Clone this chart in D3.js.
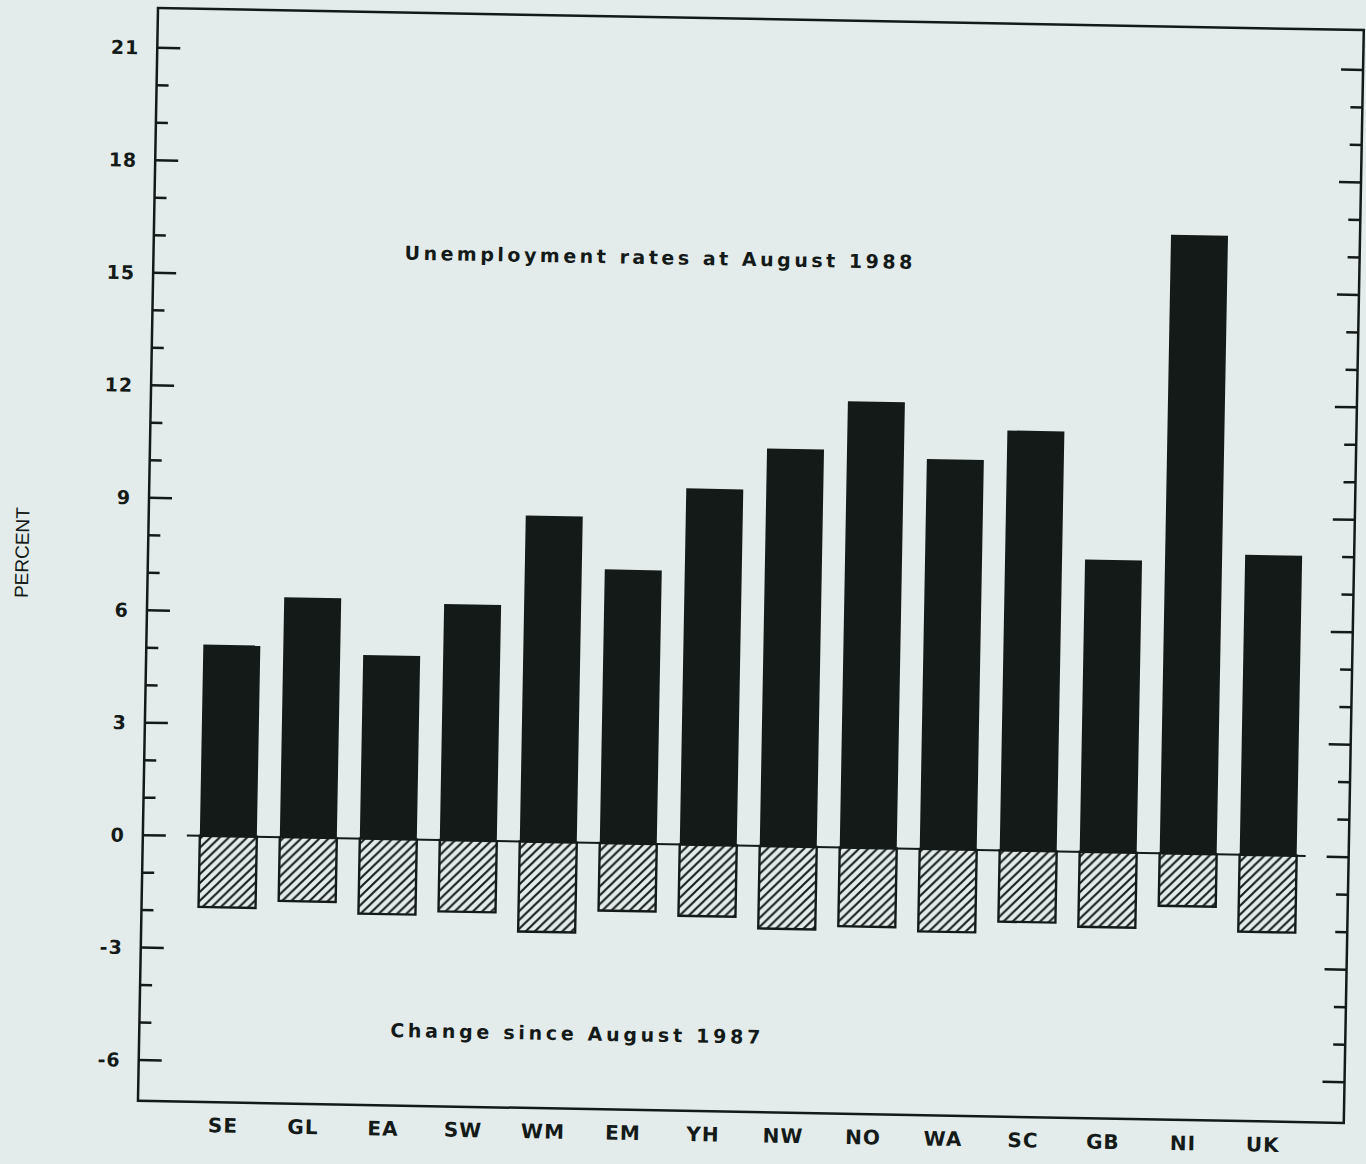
<!DOCTYPE html>
<html>
<head>
<meta charset="utf-8">
<script src="https://cdn.jsdelivr.net/npm/d3@7"></script>
<style>
  html, body { margin: 0; padding: 0; background: #e3eceb; }
  svg { display: block; }
</style>
</head>
<body>
<svg id="chart" width="1366" height="1164"></svg>
<script>
// regions, rates at Aug 1988 and change since Aug 1987 (percent)
const regions = ["SE", "GL", "EA", "SW", "WM", "EM", "YH", "NW", "NO", "WA", "SC", "GB", "NI", "UK"];
const rate1988 = [5.1, 6.4, 4.9, 6.3, 8.7, 7.3, 9.5, 10.6, 11.9, 10.4, 11.2, 7.8, 16.5, 8.0];
const change1987 = [-1.9, -1.7, -2.0, -1.9, -2.4, -1.8, -1.9, -2.2, -2.1, -2.2, -1.9, -2.0, -1.4, -2.05];
const majorTicks = [-6, -3, 0, 3, 6, 9, 12, 15, 18, 21];
const minorTicks = [-5, -4, -2, -1, 1, 2, 4, 5, 7, 8, 10, 11, 13, 14, 16, 17, 19, 20];
const titleTop = "Unemployment rates at August 1988";
const titleBottom = "Change since August 1987";
const yLabel = "PERCENT";

const width = 1366;
const height = 1164;
const frame = { left: 158, top: 8, right: 1364, bottom: 1101 };
const ink = "#141a18";
const paper = "#e3eceb";
const plotFont = "'DejaVu Sans', Verdana, sans-serif";

const svg = d3.select("#chart");
svg.append("rect").attr("width", width).attr("height", height).attr("fill", paper);

// hatch for the change bars
const hatch = svg.append("defs").append("pattern")
  .attr("id", "hatch")
  .attr("patternUnits", "userSpaceOnUse")
  .attr("width", 9)
  .attr("height", 9);
hatch.append("rect").attr("width", 9).attr("height", 9).attr("fill", paper);
hatch.append("path")
  .attr("d", "M0,9 L9,0 M-1,1 L1,-1 M8,10 L10,8")
  .attr("stroke", ink)
  .attr("stroke-width", 2);

// the original plot was scanned about one degree off
const chart = svg.append("g")
  .attr("transform", `rotate(1.05, ${frame.left}, ${frame.top})`);

const y = d3.scaleLinear()
  .domain([-7.1, 22.05])
  .range([frame.bottom, frame.top]);

const x = d3.scaleBand()
  .domain(regions)
  .range([215, 1312])
  .paddingInner(0.2875)
  .paddingOuter(0);

const data = regions.map((r, i) => ({ region: r, rate: rate1988[i], change: change1987[i] }));

// frame
chart.append("rect")
  .attr("x", frame.left)
  .attr("y", frame.top)
  .attr("width", frame.right - frame.left)
  .attr("height", frame.bottom - frame.top)
  .attr("fill", "none")
  .attr("stroke", ink)
  .attr("stroke-width", 2.5);

// zero line
chart.append("line")
  .attr("x1", x.range()[0] - 13)
  .attr("x2", x.range()[1] + 9)
  .attr("y1", y(0))
  .attr("y2", y(0))
  .attr("stroke", ink)
  .attr("stroke-width", 2);

// rate bars
chart.selectAll(".bar")
  .data(data)
  .join("rect")
  .attr("class", "bar")
  .attr("x", (d) => x(d.region))
  .attr("y", (d) => y(d.rate))
  .attr("width", x.bandwidth())
  .attr("height", (d) => y(0) - y(d.rate))
  .attr("fill", ink);

// change bars
chart.selectAll(".change")
  .data(data)
  .join("rect")
  .attr("class", "change")
  .attr("x", (d) => x(d.region))
  .attr("y", y(0))
  .attr("width", x.bandwidth())
  .attr("height", (d) => y(d.change) - y(0))
  .attr("fill", "url(#hatch)")
  .attr("stroke", ink)
  .attr("stroke-width", 2.4);

// left axis, ticks point inwards
const leftMajor = chart.append("g")
  .attr("transform", `translate(${frame.left},0)`)
  .call(d3.axisLeft(y).tickValues(majorTicks).tickSizeInner(-23).tickSizeOuter(0)
    .tickPadding(18).tickFormat((d) => String(d)));
const leftMinor = chart.append("g")
  .attr("transform", `translate(${frame.left},0)`)
  .call(d3.axisLeft(y).tickValues(minorTicks).tickSizeInner(-12).tickSizeOuter(0).tickFormat(""));

// right axis, no labels
const rightMajor = chart.append("g")
  .attr("transform", `translate(${frame.right},0)`)
  .call(d3.axisRight(y).tickValues(majorTicks).tickSizeInner(-22).tickSizeOuter(0).tickFormat(""));
const rightMinor = chart.append("g")
  .attr("transform", `translate(${frame.right},0)`)
  .call(d3.axisRight(y).tickValues(minorTicks).tickSizeInner(-12).tickSizeOuter(0).tickFormat(""));

[leftMajor, leftMinor, rightMajor, rightMinor].forEach((g) => {
  g.select(".domain").remove();
  g.selectAll(".tick line").attr("stroke", ink).attr("stroke-width", 2.5);
});

leftMajor.selectAll(".tick text")
  .attr("fill", ink)
  .attr("font-family", plotFont)
  .attr("font-weight", "bold")
  .attr("font-size", "19px")
  .attr("letter-spacing", "1px")
  .attr("dy", "0.36em");

// category labels
const xAxis = chart.append("g")
  .attr("transform", `translate(0,${frame.bottom})`)
  .call(d3.axisBottom(x).tickSize(0).tickPadding(16));
xAxis.select(".domain").remove();
xAxis.selectAll(".tick text")
  .attr("fill", ink)
  .attr("font-family", plotFont)
  .attr("font-weight", "bold")
  .attr("font-size", "20px")
  .attr("letter-spacing", "1px");

// annotations
chart.append("text")
  .attr("x", 409)
  .attr("y", 255)
  .attr("textLength", 508)
  .attr("lengthAdjust", "spacing")
  .attr("fill", ink)
  .attr("font-family", plotFont)
  .attr("font-weight", "bold")
  .attr("font-size", "19px")
  .text(titleTop);

chart.append("text")
  .attr("x", 409)
  .attr("y", 1032.5)
  .attr("textLength", 370)
  .attr("lengthAdjust", "spacing")
  .attr("fill", ink)
  .attr("font-family", plotFont)
  .attr("font-weight", "bold")
  .attr("font-size", "19px")
  .text(titleBottom);

chart.append("text")
  .attr("transform", "translate(32,555) rotate(-90)")
  .attr("text-anchor", "middle")
  .attr("dy", "0.35em")
  .attr("fill", ink)
  .attr("font-family", "'Liberation Sans', Arial, sans-serif")
  .attr("font-size", "19px")
  .text(yLabel);
</script>
</body>
</html>
